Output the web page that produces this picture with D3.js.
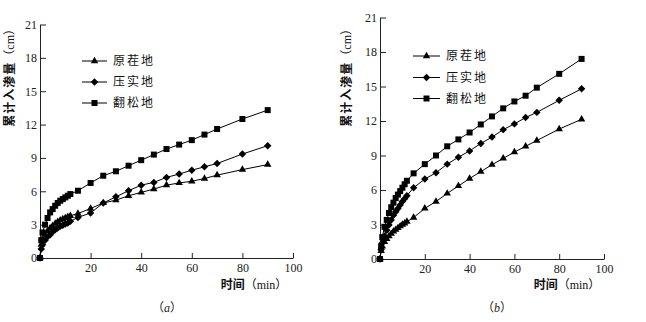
<!DOCTYPE html>
<html><head><meta charset="utf-8">
<script src="https://cdn.jsdelivr.net/npm/d3@7"></script>
<style>
body{margin:0;background:#fff;}
svg{display:block;}
.tick text{font-family:"Liberation Serif","DejaVu Serif",serif;font-size:12px;fill:#222;}
.cjk{font-family:"Noto Sans CJK SC",sans-serif;fill:#111;}
.ser{font-family:"Liberation Serif","DejaVu Serif",serif;}
</style></head><body>
<svg id="c" width="646" height="322"></svg>
<script>
const times = [0,0.5,1,2,3,4,5,6,7,8,9,10,11,12,15,20,25,30,35,40,45,50,55,60,65,70,80,90];
const seriesNames = ["原茬地","压实地","翻松地"];
// panel (a)
const a_yuancha = [0,1.2,1.6,2.1,2.45,2.7,2.9,3.1,3.25,3.4,3.5,3.6,3.7,3.8,4.0,4.45,4.95,5.2,5.6,5.9,6.2,6.55,6.75,6.9,7.15,7.45,7.95,8.4];
const a_yashi   = [0,0.8,1.2,1.6,1.9,2.1,2.35,2.55,2.7,2.85,2.95,3.05,3.15,3.3,3.65,4.05,4.95,5.5,6.05,6.55,6.8,7.25,7.55,7.9,8.2,8.5,9.35,10.1];
const a_fansong = [0,1.6,2.3,3.0,3.6,4.1,4.4,4.7,4.95,5.15,5.3,5.45,5.6,5.75,6.05,6.75,7.4,7.8,8.3,8.8,9.3,9.8,10.2,10.6,11.1,11.6,12.5,13.3];
// panel (b)
const b_yuancha = [0,0.7,1.1,1.5,1.75,2.0,2.2,2.4,2.55,2.7,2.85,3.0,3.1,3.25,3.6,4.4,5.0,5.7,6.35,7.0,7.6,8.2,8.75,9.3,9.8,10.3,11.3,12.15];
const b_yashi   = [0,0.8,1.4,2.0,2.5,2.95,3.4,3.8,4.1,4.4,4.7,5.0,5.25,5.5,6.2,6.95,7.5,8.25,8.85,9.4,10.05,10.6,11.25,11.75,12.3,12.75,13.8,14.8];
const b_fansong = [0,1.1,1.9,2.8,3.4,4.0,4.5,4.9,5.3,5.6,5.9,6.2,6.5,6.8,7.45,8.25,9.0,9.8,10.4,11.0,11.7,12.4,13.1,13.7,14.2,14.9,16.1,17.4];
const xTicks = [20,40,60,80,100];
const yTicks = [0,3,6,9,12,15,18,21];
const yTitleCn = "累计入渗量", yTitleUnit = "cm";
const xTitleCn = "时间", xTitleUnit = "min";
const captions = ["a","b"];

const svg = d3.select("#c");
const symTypes = [d3.symbolTriangle, d3.symbolSquare, d3.symbolSquare];
const symSizes = [24, 28, 36];
const symRot = [0, 45, 0];

const panels = [
  {series:[a_yuancha,a_yashi,a_fansong], xr:[40,293], yr:[258,24.5], leg:{x1:82,x2:107,y:[61,82,103]}, yTitleX:10, yTitleTop:23, xTitleX:254, cap:167},
  {series:[b_yuancha,b_yashi,b_fansong], xr:[380,604], yr:[259,17.5], leg:{x1:413,x2:440,y:[56,77.5,98.5]}, yTitleX:347, yTitleTop:23, xTitleX:567, cap:497}
];

panels.forEach((p,pi)=>{
  const x = d3.scaleLinear().domain([0,100]).range(p.xr);
  const y = d3.scaleLinear().domain([0,21]).range(p.yr);
  const g = svg.append("g");
  g.append("g").attr("transform",`translate(0,${p.yr[0]})`)
    .call(d3.axisBottom(x).tickValues(xTicks).tickSizeInner(-5).tickSizeOuter(0).tickPadding(5))
    .call(s=>{s.select(".domain").attr("stroke","#222");s.selectAll(".tick line").attr("stroke","#222");});
  g.append("g").attr("transform",`translate(${p.xr[0]},0)`)
    .call(d3.axisLeft(y).tickValues(yTicks).tickSizeInner(-6).tickSizeOuter(0).tickPadding(3))
    .call(s=>{s.select(".domain").attr("stroke","#222");s.selectAll(".tick line").attr("stroke","#222");});

  const line = d3.line().x((d,i)=>x(times[i])).y(d=>y(d));
  p.series.forEach((vals,si)=>{
    g.append("path").attr("d",line(vals)).attr("fill","none").attr("stroke","#000").attr("stroke-width",1);
    g.selectAll(null).data(vals).enter().append("path")
      .attr("transform",(d,i)=>`translate(${x(times[i])},${y(d)}) rotate(${symRot[si]})`)
      .attr("d",d3.symbol().type(symTypes[si]).size(symSizes[si]))
      .attr("fill","#000");
    const ly = p.leg.y[si];
    g.append("line").attr("x1",p.leg.x1).attr("x2",p.leg.x2).attr("y1",ly).attr("y2",ly).attr("stroke","#000");
    g.append("path").attr("transform",`translate(${(p.leg.x1+p.leg.x2)/2},${ly}) rotate(${symRot[si]})`)
      .attr("d",d3.symbol().type(symTypes[si]).size(symSizes[si])).attr("fill","#000");
    g.append("text").attr("class","cjk").attr("x",p.leg.x2+6).attr("y",ly).attr("dy","0.36em")
      .attr("font-size",12).attr("letter-spacing",2).text(seriesNames[si]);
  });
  const yt = g.append("text").attr("font-size",12)
    .attr("text-anchor","end")
    .attr("transform",`translate(${p.yTitleX},${p.yTitleTop}) rotate(-90)`).attr("dy","0.36em");
  yt.append("tspan").attr("class","cjk").attr("font-weight","bold").attr("letter-spacing",1).text(yTitleCn);
  yt.append("tspan").attr("class","cjk").text("（");
  yt.append("tspan").attr("class","ser").attr("fill","#111").text(yTitleUnit);
  yt.append("tspan").attr("class","cjk").text("）");

  const xt = g.append("text").attr("font-size",12)
    .attr("text-anchor","middle").attr("x",p.xTitleX).attr("y",285).attr("dy","0.36em");
  xt.append("tspan").attr("class","cjk").attr("font-weight","bold").text(xTitleCn);
  xt.append("tspan").attr("class","cjk").text("（");
  xt.append("tspan").attr("class","ser").attr("fill","#111").text(xTitleUnit);
  xt.append("tspan").attr("class","cjk").text("）");

  const c = g.append("text").attr("x",p.cap).attr("y",308).attr("dy","0.36em").attr("text-anchor","middle")
    .attr("font-family","Liberation Serif,serif").attr("font-size",12).attr("fill","#222");
  c.append("tspan").attr("font-family","Noto Sans CJK SC").text("（");
  c.append("tspan").attr("font-style","italic").text(captions[pi]);
  c.append("tspan").attr("font-family","Noto Sans CJK SC").text("）");
});
</script></body></html>
